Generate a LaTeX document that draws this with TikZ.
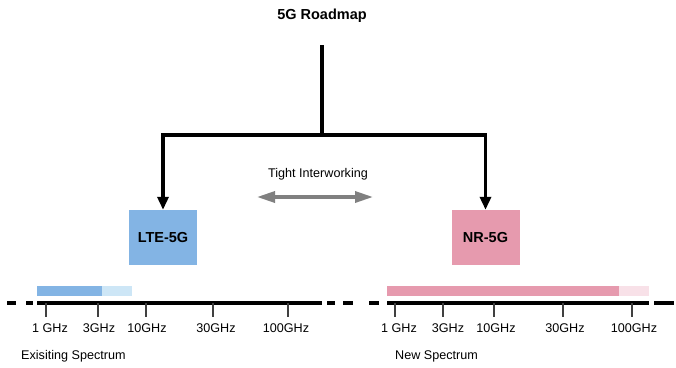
\documentclass[tikz,border=0pt]{standalone}
\usepackage{fontspec}
\setmainfont{Liberation Sans}
\usetikzlibrary{arrows.meta}
\definecolor{ltefill}{HTML}{83B4E4}
\definecolor{nrfill}{HTML}{E69AAE}
\definecolor{ltelight}{HTML}{CDE6F6}
\definecolor{nrlight}{HTML}{F8E1E8}
\definecolor{arrowgray}{HTML}{808080}
\definecolor{tickgray}{HTML}{404040}
\tikzset{
  boldtext/.style={font=\fontsize{14.5}{16}\selectfont\bfseries, inner sep=0pt},
  plaintext/.style={font=\fontsize{12.6}{15}\selectfont, inner sep=0pt},
  techbox/.style={minimum width=68pt, minimum height=55pt, inner sep=0pt, font=\fontsize{14.5}{16}\selectfont\bfseries},
  conn/.style={line width=3.3pt, black},
  connarrow/.style={conn, -{Triangle[length=13pt,width=11pt]}},
  axisline/.style={line width=4pt, black},
  tickline/.style={line width=2.2pt, tickgray},
}
\begin{document}
\begin{tikzpicture}[x=1pt,y=-1pt]
\useasboundingbox (0,0) rectangle (676,367);
% title
\node[boldtext] (title) at (322,16) {5G Roadmap};
\coordinate (top) at (322,45);
\coordinate (junction) at (322,135);
% boxes
\node[techbox, fill=ltefill] (lte) at (163,237.5) {LTE-5G};
\node[techbox, fill=nrfill] (nr) at (485.5,237.5) {NR-5G};
% connectors
\draw[conn] (top) -- (junction);
\draw[connarrow] (junction) -| (lte.north);
\draw[connarrow] (junction) -| (nr.north);
% tight interworking
\node[plaintext] (tight) at (318,174) {Tight Interworking};
\coordinate (twl) at (257,197);
\coordinate (twr) at (373,197);
\draw[line width=3.3pt, arrowgray, {Triangle[length=18pt,width=11pt]}-{Triangle[length=18pt,width=11pt]}] (twl) -- (twr);
% left spectrum bars
\fill[ltelight] (37,286) rectangle (132,296);
\fill[ltefill] (37,286) rectangle (102,296);
% right spectrum bars
\fill[nrlight] (387,286) rectangle (649,296);
\fill[nrfill] (387,286) rectangle (619,296);
% left axis
\draw[axisline] (7,303) -- (16,303);
\draw[axisline] (26,303) -- (33,303);
\draw[axisline] (37,303) -- (322,303);
\draw[axisline] (327,303) -- (335,303);
\foreach \x in {46,98,146,213,288} \draw[tickline] (\x,303) -- (\x,317);
\node[plaintext] (l1) at (50,328) {1 GHz};
\node[plaintext] (l3) at (99,328) {3GHz};
\node[plaintext] (l10) at (147,328) {10GHz};
\node[plaintext] (l30) at (216,328) {30GHz};
\node[plaintext] (l100) at (286,328) {100GHz};
\node[plaintext, anchor=west] (exist) at (21,356) {Exisiting Spectrum};
% right axis
\draw[axisline] (343,303) -- (353,303);
\draw[axisline] (369,303) -- (379,303);
\draw[axisline] (387,303) -- (649,303);
\draw[axisline] (654,303) -- (674,303);
\foreach \x in {395,443,494,563,632} \draw[tickline] (\x,303) -- (\x,317);
\node[plaintext] (r1) at (399,328) {1 GHz};
\node[plaintext] (r3) at (448,328) {3GHz};
\node[plaintext] (r10) at (496,328) {10GHz};
\node[plaintext] (r30) at (565,328) {30GHz};
\node[plaintext] (r100) at (634,328) {100GHz};
\node[plaintext, anchor=west] (newspec) at (395,356) {New Spectrum};
\end{tikzpicture}
\end{document}
